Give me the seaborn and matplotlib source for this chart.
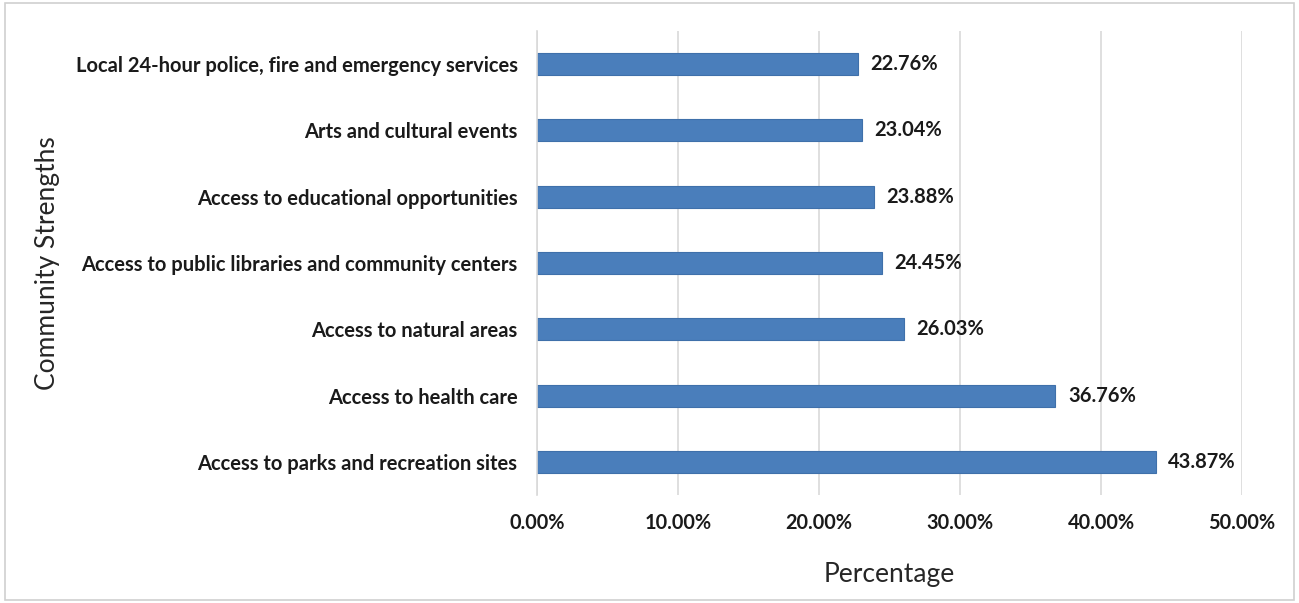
import matplotlib
matplotlib.use("Agg")
import matplotlib.pyplot as plt
import seaborn as sns
import pandas as pd
from matplotlib.patches import Rectangle
from matplotlib.ticker import FuncFormatter

categories = [
    "Local 24-hour police, fire and emergency services",
    "Arts and cultural events",
    "Access to educational opportunities",
    "Access to public libraries and community centers",
    "Access to natural areas",
    "Access to health care",
    "Access to parks and recreation sites",
]
percentages = [22.76, 23.04, 23.88, 24.45, 26.03, 36.76, 43.87]
x_ticks = [0, 10, 20, 30, 40, 50]

df = pd.DataFrame({"Community Strengths": categories, "Percentage": percentages})

sns.set_theme(style="white")
plt.rcParams["font.family"] = ["Lato", "DejaVu Sans"]

fig = plt.figure(figsize=(12.99, 6.03), dpi=100)
ax = fig.add_axes([0.4134, 0.179, 0.5427, 0.7696])

sns.barplot(data=df, y="Community Strengths", x="Percentage", orient="h",
            color="#4a7ebb", width=0.33, edgecolor="#3f70aa", linewidth=0.8,
            saturation=1, ax=ax)

ax.set_xlim(0, 50)
ax.set_xticks(x_ticks)
ax.xaxis.set_major_formatter(FuncFormatter(lambda v, _: f"{v:.2f}%"))
ax.grid(axis="x", color="#d9d9d9", linewidth=1.2)
ax.set_axisbelow(True)
for side in ["top", "right", "bottom"]:
    ax.spines[side].set_visible(False)
ax.spines["left"].set_color("#d9d9d9")
ax.spines["left"].set_linewidth(1.2)
ax.tick_params(axis="x", length=0, pad=13, labelsize=14.3, labelcolor="#1a1a1a")
ax.tick_params(axis="y", length=0, pad=14, labelsize=14.5, labelcolor="#1a1a1a")
for lbl in ax.get_xticklabels() + ax.get_yticklabels():
    lbl.set_fontweight("bold")

ax.set_xlabel("Percentage", fontsize=19, color="#262626", labelpad=21)
ax.set_ylabel("Community Strengths", fontsize=19, color="#262626")
ax.yaxis.set_label_coords(-0.677, 0.5)

for i, v in enumerate(percentages):
    ax.text(v + 0.9, i, f"{v:.2f}%", va="center", ha="left",
            fontsize=14.5, fontweight="bold", color="#1a1a1a")

fig.patches.append(Rectangle((0.004, 0.005), 0.992, 0.99, transform=fig.transFigure,
                             fill=False, edgecolor="#d0d0d0", linewidth=1.2))

fig.savefig("out.png", dpi=100)
